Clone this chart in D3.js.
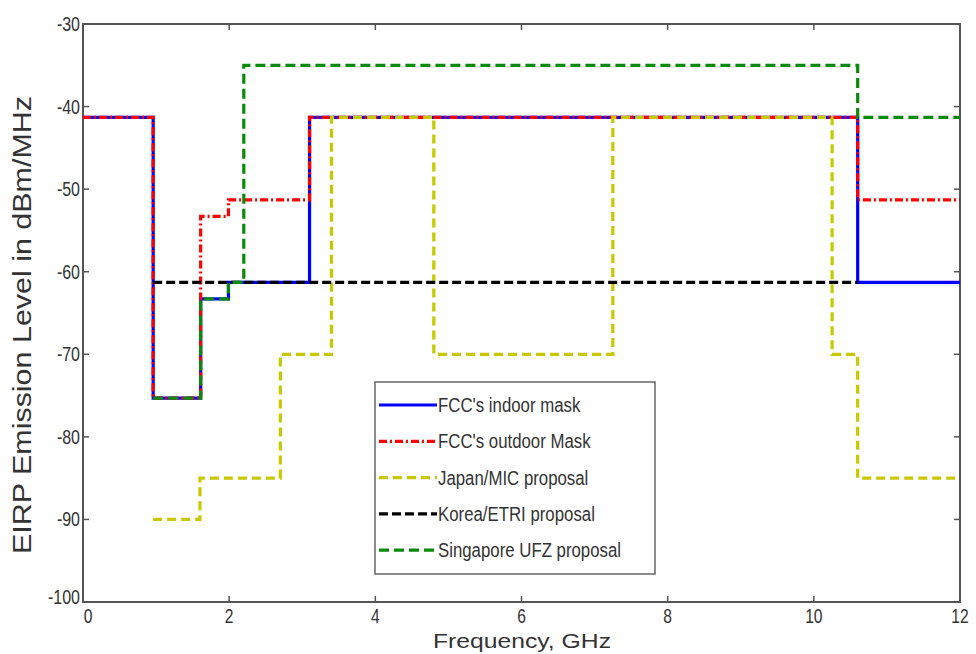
<!DOCTYPE html>
<html><head><meta charset="utf-8">
<script src="https://cdn.jsdelivr.net/npm/d3@7"></script>
<style>body{margin:0;background:#fff}svg{display:block}text{font-family:"Liberation Sans",Arial,sans-serif}</style>
</head><body>
<svg id="c" width="976" height="654"></svg>
<script>
// Step series: breakpoints (GHz) and levels (dBm/MHz) between them
const indoorX = [0, 0.96, 1.61, 1.99, 3.1, 10.6, 12];
const indoorY = [-41.3, -75.3, -63.3, -61.3, -41.3, -61.3];
const outdoorX = [0, 0.96, 1.61, 1.99, 3.1, 10.6, 12];
const outdoorY = [-41.3, -75.3, -53.3, -51.3, -41.3, -51.3];
const japanX = [0.96, 1.6, 2.7, 3.4, 4.8, 7.25, 10.25, 10.6, 12];
const japanY = [-90, -85, -70, -41.3, -70, -41.3, -70, -85];
const koreaX = [0.96, 10.6];
const koreaY = [-61.3];
const singaporeX = [0.96, 1.61, 1.99, 2.2, 10.6, 12];
const singaporeY = [-75.3, -63.3, -61.3, -35, -41.3];
const seriesNames = ["FCC's indoor mask", "FCC's outdoor Mask", "Japan/MIC proposal", "Korea/ETRI proposal", "Singapore UFZ proposal"];
const xTicks = [0, 2, 4, 6, 8, 10, 12];
const yTicks = [-100, -90, -80, -70, -60, -50, -40, -30];

const svg = d3.select("#c");
const x = d3.scaleLinear().domain([0, 12]).range([83, 960]);
const y = d3.scaleLinear().domain([-100, -30]).range([602, 24]);
const axisColor = "#555";

function squeeze(sel, f) {
  sel.each(function(){ const w = this.getComputedTextLength(); this.setAttribute("textLength", w * f); this.setAttribute("lengthAdjust", "spacingAndGlyphs"); });
}

// frame
svg.append("rect").attr("x", x(0)).attr("y", y(-30)).attr("width", x(12) - x(0)).attr("height", y(-100) - y(-30))
  .attr("fill", "none").attr("stroke", axisColor).attr("stroke-width", 2);

// ticks (inward, all sides)
const tk = svg.append("g").attr("stroke", axisColor).attr("stroke-width", 1.5);
xTicks.forEach(t => {
  tk.append("line").attr("x1", x(t)).attr("x2", x(t)).attr("y1", y(-100)).attr("y2", y(-100) - 6);
  tk.append("line").attr("x1", x(t)).attr("x2", x(t)).attr("y1", y(-30)).attr("y2", y(-30) + 6);
});
yTicks.forEach(t => {
  tk.append("line").attr("x1", x(0)).attr("x2", x(0) + 6).attr("y1", y(t)).attr("y2", y(t));
  tk.append("line").attr("x1", x(12)).attr("x2", x(12) - 6).attr("y1", y(t)).attr("y2", y(t));
});

// tick labels
const xl = svg.append("g").selectAll("text").data(xTicks).join("text")
  .attr("x", d => x(d) + (d === 0 ? 5 : 0)).attr("y", 623).attr("text-anchor", "middle").attr("font-size", 20).attr("fill", "#333").text(d => d);
squeeze(xl, 0.78);
const yl = svg.append("g").selectAll("text").data(yTicks).join("text")
  .attr("x", 80).attr("y", d => y(d) + 7 - (d === -100 ? 5 : 0)).attr("text-anchor", "end").attr("font-size", 20).attr("fill", "#333").text(d => d);
squeeze(yl, 0.8);

// axis titles
const xt = svg.append("text").attr("x", 522).attr("y", 648).attr("text-anchor", "middle").attr("font-size", 21).attr("fill", "#333").text("Frequency, GHz");
xt.attr("textLength", 178).attr("lengthAdjust", "spacingAndGlyphs");
svg.append("text").attr("transform", "translate(31,325) rotate(-90)").attr("text-anchor", "middle")
  .attr("font-size", 25).attr("fill", "#333").attr("textLength", 458).attr("lengthAdjust", "spacingAndGlyphs")
  .text("EIRP  Emission Level in dBm/MHz");

// lines
function pts(xs, ys) { const p = ys.map((v, i) => [xs[i], v]); p.push([xs[xs.length - 1], ys[ys.length - 1]]); return p; }
const line = d3.line().x(d => x(d[0])).y(d => y(d[1])).curve(d3.curveStepAfter);
const series = [
  {x: indoorX, y: indoorY, color: "#0000ff", dash: null},
  {x: outdoorX, y: outdoorY, color: "#ff0000", dash: "8,3,2,3"},
  {x: japanX, y: japanY, color: "#c8c800", dash: "9,5"},
  {x: koreaX, y: koreaY, color: "#000000", dash: "9,4"},
  {x: singaporeX, y: singaporeY, color: "#0a8a0a", dash: "10,5"}
];
const lg = svg.append("g");
series.forEach(s => {
  lg.append("path").attr("d", line(pts(s.x, s.y))).attr("fill", "none").attr("stroke", s.color)
    .attr("stroke-width", 3.2).attr("stroke-dasharray", s.dash);
});

// legend
const leg = svg.append("g");
leg.append("rect").attr("x", 375).attr("y", 382).attr("width", 280).attr("height", 192).attr("fill", "#fff")
  .attr("stroke", "#666").attr("stroke-width", 1.5);
series.forEach((s, i) => {
  const yy = 405 + i * 36.3;
  leg.append("line").attr("x1", 379).attr("x2", 437).attr("y1", yy).attr("y2", yy).attr("stroke", s.color)
    .attr("stroke-width", 3.2).attr("stroke-dasharray", s.dash);
  const t = leg.append("text").attr("x", 438).attr("y", yy + 7).attr("font-size", 20).attr("fill", "#333").text(seriesNames[i]);
  squeeze(t, 0.84);
});
</script>
</body></html>
